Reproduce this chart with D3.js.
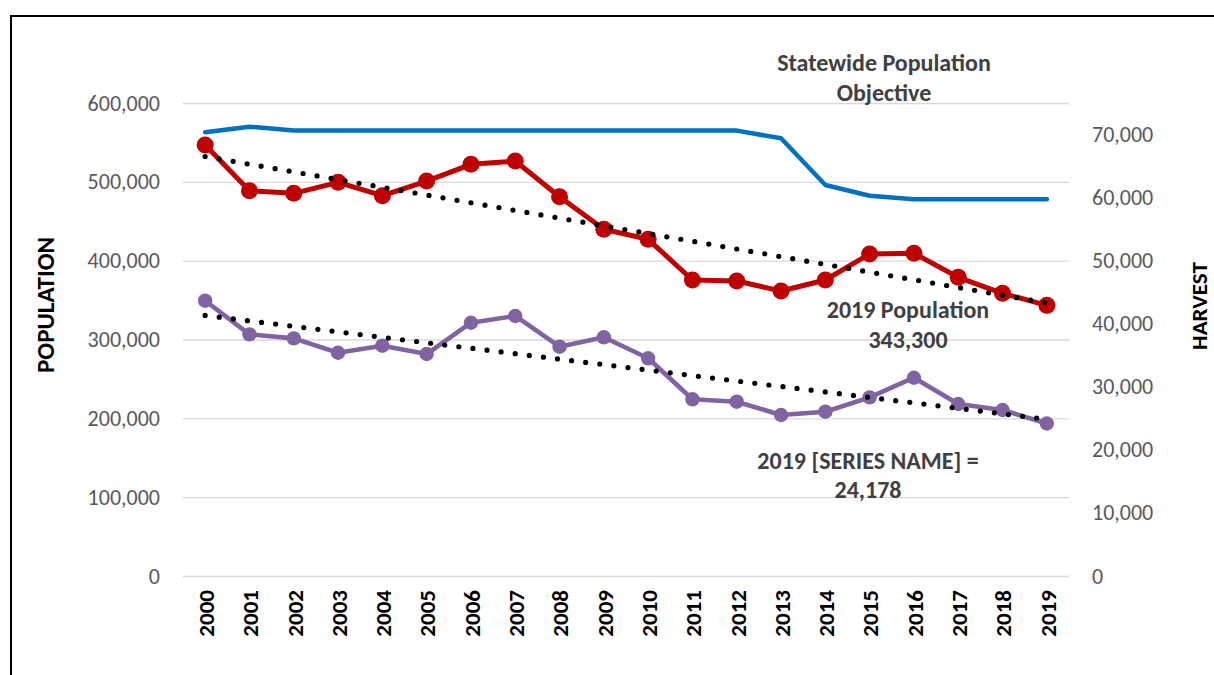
<!DOCTYPE html>
<html>
<head>
<meta charset="utf-8">
<script src="https://cdn.jsdelivr.net/npm/d3@7"></script>
<style>
  html, body { margin: 0; padding: 0; background: #fff; }
  svg { display: block; font-family: Calibri, Carlito, Lato, sans-serif; }
</style>
</head>
<body>
<svg id="chart" width="1214" height="675"></svg>
<script>
// Years on the category axis
const years = ["2000","2001","2002","2003","2004","2005","2006","2007","2008","2009",
               "2010","2011","2012","2013","2014","2015","2016","2017","2018","2019"];

// Estimated population (left axis)
const population = [546700, 488700, 485400, 499400, 482400, 501000, 522200, 526400, 481100, 439800,
                    427100, 375500, 374200, 361500, 375500, 408500, 409300, 378900, 358600, 343300];

// Statewide population objective (left axis)
const objective = [562800, 570000, 565000, 565000, 565000, 565000, 565000, 565000, 565000, 565000,
                   565000, 565000, 565000, 555200, 496000, 482400, 477800, 477800, 477800, 477800];

// Harvest (right axis)
const harvest = [43650, 38320, 37680, 35400, 36520, 35200, 40160, 41230, 36360, 37850,
                 34520, 28020, 27640, 25530, 26050, 28330, 31440, 27270, 26320, 24178];

// Tick values for both value axes
const leftTicks  = [0, 100000, 200000, 300000, 400000, 500000, 600000];
const rightTicks = [0, 10000, 20000, 30000, 40000, 50000, 60000, 70000];

const svg = d3.select("#chart");
const fmt = d3.format(",");
const FONT = "Calibri, Carlito, Lato, sans-serif";

const plot = { left: 183, right: 1069, top: 103, bottom: 576 };

const x  = d3.scalePoint().domain(years).range([plot.left, plot.right]).padding(0.5);
const yL = d3.scaleLinear().domain([0, 600000]).range([plot.bottom, plot.top]);
const yR = d3.scaleLinear().domain([0, 75000]).range([plot.bottom, plot.top]);

// Outer frame
svg.append("path")
  .attr("d", "M11,680V16H1220")
  .attr("fill", "none")
  .attr("stroke", "#000")
  .attr("stroke-width", 2);

// Horizontal gridlines
svg.append("g")
  .attr("transform", `translate(${plot.left},0)`)
  .call(d3.axisLeft(yL).tickValues(leftTicks).tickSize(-(plot.right - plot.left)).tickFormat(""))
  .call(g => g.select(".domain").remove())
  .call(g => g.selectAll("line").attr("stroke", "#D9D9D9").attr("stroke-width", 1.3));

// Left axis labels
svg.append("g")
  .attr("transform", `translate(${plot.left},0)`)
  .call(d3.axisLeft(yL).tickValues(leftTicks).tickSize(0).tickPadding(23).tickFormat(fmt))
  .call(g => g.select(".domain").remove())
  .call(g => g.selectAll("text")
    .attr("fill", "#595959").style("font-size", "22px").style("font-family", FONT));

// Right axis labels
svg.append("g")
  .attr("transform", `translate(${plot.right},0)`)
  .call(d3.axisRight(yR).tickValues(rightTicks).tickSize(0).tickPadding(23).tickFormat(fmt))
  .call(g => g.select(".domain").remove())
  .call(g => g.selectAll("text")
    .attr("fill", "#595959").style("font-size", "22px").style("font-family", FONT));

// Category axis with vertical year labels
svg.append("g")
  .attr("transform", `translate(0,${plot.bottom})`)
  .call(d3.axisBottom(x).tickSize(0))
  .call(g => g.select(".domain").remove())
  .call(g => g.selectAll("text")
    .attr("transform", "rotate(-90)")
    .attr("x", -14).attr("y", 0).attr("dy", "0.36em")
    .attr("text-anchor", "end")
    .attr("fill", "#000")
    .style("font-size", "23px").style("font-weight", "bold")
    .style("font-family", FONT));

// Axis titles
svg.append("text")
  .attr("transform", "translate(45,305) rotate(-90)")
  .attr("text-anchor", "middle").attr("dy", "0.36em")
  .style("font-size", "25px").style("font-weight", "bold")
  .text("POPULATION");

svg.append("text")
  .attr("transform", "translate(1199,306) rotate(-90)")
  .attr("text-anchor", "middle").attr("dy", "0.36em")
  .style("font-size", "23px").style("font-weight", "bold")
  .text("HARVEST");

// Linear least-squares fit through a series
function linearFit(values) {
  const xs = values.map((_, i) => i + 1);
  const mx = d3.mean(xs), my = d3.mean(values);
  let sxy = 0, sxx = 0;
  xs.forEach((xi, i) => { sxy += (xi - mx) * (values[i] - my); sxx += (xi - mx) ** 2; });
  const b = sxy / sxx, a = my - b * mx;
  return xs.map(xi => a + b * xi);
}

const lineL = d3.line().x((d, i) => x(years[i])).y(d => yL(d));
const lineR = d3.line().x((d, i) => x(years[i])).y(d => yR(d));

// Population objective
svg.append("path")
  .datum(objective)
  .attr("d", lineL)
  .attr("fill", "none")
  .attr("stroke", "#0070C0")
  .attr("stroke-width", 4.5)
  .attr("stroke-linecap", "round")
  .attr("stroke-linejoin", "round");

// Population
svg.append("path")
  .datum(population)
  .attr("d", lineL)
  .attr("fill", "none")
  .attr("stroke", "#C00000")
  .attr("stroke-width", 5)
  .attr("stroke-linejoin", "round");
svg.append("g").selectAll("circle")
  .data(population)
  .join("circle")
  .attr("cx", (d, i) => x(years[i]))
  .attr("cy", d => yL(d))
  .attr("r", 8.5)
  .attr("fill", "#C00000");

// Harvest
svg.append("path")
  .datum(harvest)
  .attr("d", lineR)
  .attr("fill", "none")
  .attr("stroke", "#8064A2")
  .attr("stroke-width", 4.6)
  .attr("stroke-linejoin", "round");
svg.append("g").selectAll("circle")
  .data(harvest)
  .join("circle")
  .attr("cx", (d, i) => x(years[i]))
  .attr("cy", d => yR(d))
  .attr("r", 7.2)
  .attr("fill", "#8064A2");

// Linear trendlines (dotted)
[[linearFit(population), lineL], [linearFit(harvest), lineR]].forEach(([fit, gen]) => {
  svg.append("path")
    .datum(fit)
    .attr("d", gen)
    .attr("fill", "none")
    .attr("stroke", "#000")
    .attr("stroke-width", 5.2)
    .attr("stroke-linecap", "round")
    .attr("stroke-dasharray", "0 14.2");
});

// Text annotations
function note(lines, cx, y0, lineGap) {
  const t = svg.append("text")
    .attr("text-anchor", "middle")
    .attr("fill", "#404040")
    .style("font-size", "24px").style("font-weight", "bold");
  lines.forEach((s, i) => t.append("tspan").attr("x", cx).attr("y", y0 + i * lineGap).text(s));
}
note(["Statewide Population", "Objective"], 884, 71, 30);
note(["2019 Population", fmt(population[population.length - 1])], 908, 318, 30);
note(["2019 [SERIES NAME] =", fmt(harvest[harvest.length - 1])], 868, 469, 29);
</script>
</body>
</html>
